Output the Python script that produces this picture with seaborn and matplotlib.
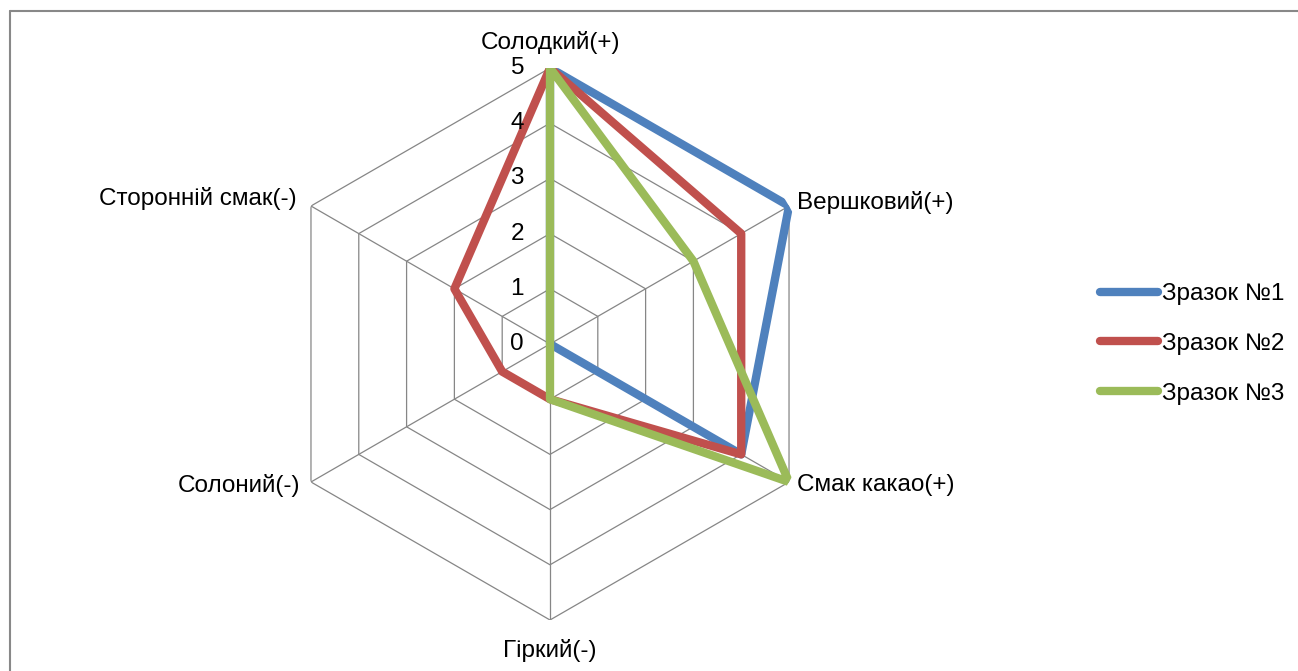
import numpy as np
import pandas as pd
import seaborn as sns
import matplotlib.pyplot as plt
from matplotlib.lines import Line2D

# categories clockwise from the top
categories = ["Солодкий(+)", "Вершковий(+)", "Смак какао(+)",
              "Гіркий(-)", "Солоний(-)", "Сторонній смак(-)"]
series_names = ["Зразок №1", "Зразок №2", "Зразок №3"]
sample1 = [5, 5, 4, 0, 0, 0]
sample2 = [5, 4, 4, 1, 1, 2]
sample3 = [5, 3, 5, 1, 0, 0]
rticks = [0, 1, 2, 3, 4, 5]

colors = ["#4F81BD", "#C0504D", "#9BBB59"]
grid_color = "#868686"

sns.set_style("white")
plt.rcParams['font.family'] = ['Liberation Sans', 'DejaVu Sans']
plt.rcParams['font.size'] = 17.5
plt.rcParams['text.color'] = 'black'

n = len(categories)
angles = [2 * np.pi * i / n for i in range(n)]
closed_angles = angles + [2 * np.pi]

rows = []
for name, vals in zip(series_names, [sample1, sample2, sample3]):
    for a, v in zip(closed_angles, vals + vals[:1]):
        rows.append({"angle": a, "value": v, "series": name})
df = pd.DataFrame(rows)

fig = plt.figure(figsize=(12.98, 6.71), dpi=100)
W, H = 1298, 671
cx, cy, R = 550, 344, 276
ax = fig.add_axes([(cx - R) / W, (H - cy - R) / H, 2 * R / W, 2 * R / H],
                  projection='polar')
ax.set_theta_zero_location('N')
ax.set_theta_direction(-1)
ax.set_ylim(0, 5)
ax.grid(False)
ax.set_xticks([])
ax.set_yticks([])
ax.spines['polar'].set_visible(False)
ax.patch.set_visible(False)

# hexagon grid and spokes
for r in rticks[1:]:
    ax.plot(closed_angles, [r] * len(closed_angles), color=grid_color,
            lw=0.9, zorder=1)
for a in angles:
    ax.plot([a, a], [0, 5], color=grid_color, lw=0.9, zorder=1)

sns.lineplot(data=df, x="angle", y="value", hue="series", palette=colors,
             sort=False, estimator=None, linewidth=6, legend=False, ax=ax,
             zorder=3)
for line in ax.get_lines():
    line.set_solid_joinstyle('round')
ax.set_xlabel("")
ax.set_ylabel("")
ax.set_ylim(0, 5)

# radial tick labels
for r in rticks:
    ax.annotate(str(r), xy=(0, r), xytext=(-26, 0), textcoords='offset pixels',
                ha='right', va='center', color='black')

# category labels
label_pos = [((0, 26), 'center', 'center'),
             ((8, 4), 'left', 'center'),
             ((8, -3), 'left', 'center'),
             ((0, -30), 'center', 'center'),
             ((-11, -3), 'right', 'center'),
             ((-14, 7), 'right', 'center')]
for a, cat, (off, ha, va) in zip(angles, categories, label_pos):
    ax.annotate(cat, xy=(a, 5), xytext=off, textcoords='offset pixels',
                ha=ha, va=va, color='black')

handles = [Line2D([], [], color=c, lw=6, solid_capstyle='round') for c in colors]
leg = fig.legend(handles, series_names, loc='center left',
                 bbox_to_anchor=(1100 / W, (H - 344) / H), frameon=False,
                 handlelength=2.4, handletextpad=0.15, labelspacing=1.15,
                 borderpad=0, borderaxespad=0)
for t in leg.get_texts():
    t.set_color('black')

# chart border
fig.add_artist(Line2D([9.5 / W, 9.5 / W], [0, 1 - 11 / H], color="#888888",
                      lw=1.5, transform=fig.transFigure))
fig.add_artist(Line2D([9.5 / W, 1], [1 - 11 / H, 1 - 11 / H], color="#888888",
                      lw=1.5, transform=fig.transFigure))

plt.savefig("out.png", dpi=100)
